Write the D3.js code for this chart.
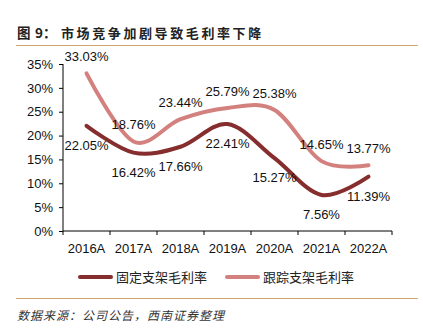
<!DOCTYPE html>
<html>
<head>
<meta charset="utf-8">
<script src="https://cdn.jsdelivr.net/npm/d3@7"></script>
<style>
  body { margin: 0; background: #fff; }
  svg text { font-family: "Liberation Sans", Arial, sans-serif; }
  .cjk { font-family: "Noto Sans CJK SC", sans-serif; }
</style>
</head>
<body>
<svg id="chart" width="423" height="330"></svg>
<script>
// chart data
var years = ["2016A", "2017A", "2018A", "2019A", "2020A", "2021A", "2022A"];
var fixedMargin = [22.05, 16.42, 17.66, 22.41, 15.27, 7.56, 11.39];
var trackerMargin = [33.03, 18.76, 23.44, 25.79, 25.38, 14.65, 13.77];
var yTicks = [0, 5, 10, 15, 20, 25, 30, 35];
var seriesNames = ["固定支架毛利率", "跟踪支架毛利率"];

var FIXED_COLOR = "#862d2d";
var TRACK_COLOR = "#d3817e";
var RULE_COLOR = "#d2a86a";

var svg = d3.select("#chart");

// header + footer
svg.append("text")
    .attr("class", "cjk")
    .attr("x", 17).attr("y", 38)
    .style("font-size", "13.5px").style("font-weight", "bold")
    .style("fill", "#222")
    .text("图");
svg.append("text")
    .attr("class", "cjk")
    .attr("x", 35).attr("y", 38)
    .style("font-size", "13.5px").style("font-weight", "bold")
    .style("fill", "#222")
    .text("9：");
svg.append("text")
    .attr("class", "cjk")
    .attr("x", 61).attr("y", 38)
    .style("font-size", "13px").style("font-weight", "bold")
    .style("letter-spacing", "2.6px")
    .style("fill", "#222")
    .text("市场竞争加剧导致毛利率下降");

svg.append("line")
    .attr("x1", 16).attr("x2", 418).attr("y1", 45.5).attr("y2", 45.5)
    .style("stroke", RULE_COLOR).style("stroke-width", 1.2);
svg.append("line")
    .attr("x1", 16).attr("x2", 418).attr("y1", 298.5).attr("y2", 298.5)
    .style("stroke", RULE_COLOR).style("stroke-width", 1.2);

svg.append("text")
    .attr("class", "cjk")
    .attr("x", 17).attr("y", 320)
    .style("font-size", "12px").style("font-style", "italic")
    .style("letter-spacing", "1px")
    .style("fill", "#333")
    .text("数据来源：公司公告，西南证券整理");

// scales
var x = d3.scaleBand().domain(years).range([63, 392]);
var y = d3.scaleLinear().domain([0, 35]).range([231, 64]);

// axes
var yAxis = svg.append("g")
    .attr("transform", "translate(63,0)")
    .call(d3.axisLeft(y).tickValues(yTicks).tickSize(4).tickPadding(6)
        .tickFormat(function (d) { return d + "%"; }));
yAxis.selectAll("text").style("font-size", "13px").style("fill", "#111")
    .style("font-family", "Liberation Sans, Arial, sans-serif");
yAxis.select(".domain").attr("d", "M0,64V231");

var xAxis = svg.append("g")
    .attr("transform", "translate(0,231)");
xAxis.append("line")
    .attr("x1", 63).attr("x2", 392)
    .style("stroke", "#000");
var bounds = years.map(function (d) { return x(d); }).concat([x.range()[1]]);
xAxis.selectAll(".tk").data(bounds).enter().append("line")
    .attr("class", "tk")
    .attr("x1", function (d) { return d; }).attr("x2", function (d) { return d; })
    .attr("y1", 0).attr("y2", 4)
    .style("stroke", "#000");
xAxis.selectAll(".lbl").data(years).enter().append("text")
    .attr("class", "lbl")
    .attr("x", function (d) { return x(d) + x.bandwidth() / 2; })
    .attr("y", 22)
    .attr("text-anchor", "middle")
    .style("font-size", "13px").style("fill", "#111")
    .text(function (d) { return d; });

// lines
var line = d3.line()
    .x(function (d, i) { return x(years[i]) + x.bandwidth() / 2; })
    .y(function (d) { return y(d); })
    .curve(d3.curveCatmullRom.alpha(0));

var series = [
    { name: seriesNames[0], values: fixedMargin, color: FIXED_COLOR, dy: 24 },
    { name: seriesNames[1], values: trackerMargin, color: TRACK_COLOR, dy: -12 }
];

series.slice().reverse().forEach(function (s) {
    svg.append("path")
        .attr("d", line(s.values))
        .style("fill", "none")
        .style("stroke", s.color)
        .style("stroke-width", 4)
        .style("stroke-linecap", "round");
});

series.forEach(function (s) {
    svg.selectAll(null).data(s.values).enter().append("text")
        .attr("x", function (d, i) { return x(years[i]) + x.bandwidth() / 2; })
        .attr("y", function (d) { return y(d) + s.dy; })
        .attr("text-anchor", "middle")
        .style("font-size", "13px").style("fill", "#111")
        .text(function (d) { return d.toFixed(2) + "%"; });
});

// legend
var legend = svg.append("g").attr("transform", "translate(0,277)");
var legendX = [80, 227];
series.forEach(function (s, i) {
    legend.append("line")
        .attr("x1", legendX[i]).attr("x2", legendX[i] + 31)
        .style("stroke", s.color).style("stroke-width", 4)
        .style("stroke-linecap", "round");
    legend.append("text")
        .attr("class", "cjk")
        .attr("x", legendX[i] + 36).attr("y", 5)
        .style("font-size", "13px").style("fill", "#222")
        .text(s.name);
});
</script>
</body>
</html>
